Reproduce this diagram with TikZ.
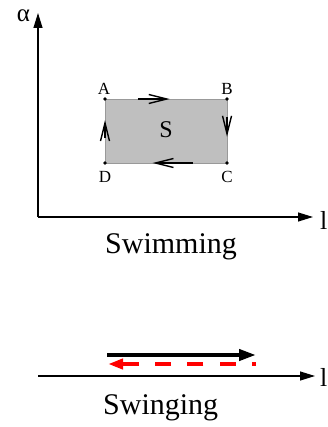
\documentclass[tikz,border=0pt]{standalone}
\usepackage{fontspec}
\setmainfont{Liberation Serif}
\usetikzlibrary{arrows.meta,calc}
\begin{document}
\begin{tikzpicture}[x=1pt,y=-1pt,
  axis/.style={line width=1.2pt,-{Triangle[length=15pt,width=9pt]}},
  cyc/.style={line width=1.4pt,-{Straight Barb[length=18pt,width=9pt]}},
  corner/.style={circle,fill=black,inner sep=0pt,minimum size=3.8pt},
  cornerlbl/.style={font=\fontsize{17}{17}\selectfont,inner sep=0pt,anchor=base},
  caption/.style={font=\fontsize{30}{30}\selectfont,inner sep=0pt,anchor=base west},
  axislbl/.style={font=\fontsize{26}{26}\selectfont,inner sep=0pt,anchor=west},
]
\useasboundingbox (0,0) rectangle (328,427);

% ---- swimming: (l, alpha) plane ----
\coordinate (O) at (38,217);
\coordinate (Ytip) at (38,13);
\coordinate (Xtip) at (313,217);
\draw[axis] (O) -- (Ytip);
\draw[axis] (O) -- (Xtip);
\node[font=\fontsize{25}{25}\selectfont,inner sep=0pt] (alpha) at (23.5,16) {α};
\node[axislbl] (lx) at (320,220) {l};

% the closed stroke cycle
\coordinate (A) at (105,99);
\coordinate (B) at (227,99);
\coordinate (C) at (227,163);
\coordinate (D) at (105,163);
\fill[fill=black!25,draw=black!40,line width=0.6pt] (A) rectangle (C);
\foreach \p in {A,B,C,D} \node[corner] (dot\p) at (\p) {};
\node[cornerlbl] (lA) at (104,95) {A};
\node[cornerlbl] (lB) at (227,95) {B};
\node[cornerlbl] (lC) at (227,183) {C};
\node[cornerlbl] (lD) at (105,183) {D};
\node[font=\fontsize{24}{24}\selectfont,inner sep=0pt,anchor=base] (area) at (166,138) {S};

\draw[cyc] ($(A)!0.27!(B)$) -- ($(A)!0.53!(B)$);
\draw[cyc] ($(B)!0.28!(C)$) -- ($(B)!0.59!(C)$);
\draw[cyc] ($(C)!0.28!(D)$) -- ($(C)!0.61!(D)$);
\draw[cyc] ($(D)!0.39!(A)$) -- ($(D)!0.67!(A)$);

\node[caption] (swim) at (105,253) {Swimming};

% ---- swinging: back and forth along l ----
\coordinate (O2) at (38,376);
\coordinate (Xtip2) at (315,376);
\draw[axis] (O2) -- (Xtip2);
\node[axislbl] (lx2) at (320,377) {l};

\coordinate (p1) at (107,355);
\coordinate (p2) at (256,355);
\coordinate (q1) at (108,364);
\coordinate (q2) at (256,364);
\draw[line width=4pt,-{Triangle[length=17pt,width=11pt]}] (p1) -- (p2);
\draw[red,line width=3.8pt,dash pattern=on 16pt off 16.3pt,dash phase=12pt,
      -{Triangle[length=15pt,width=10pt]}] (q2) -- (q1);

\node[caption] (swing) at (103,414) {Swinging};
\end{tikzpicture}
\end{document}
